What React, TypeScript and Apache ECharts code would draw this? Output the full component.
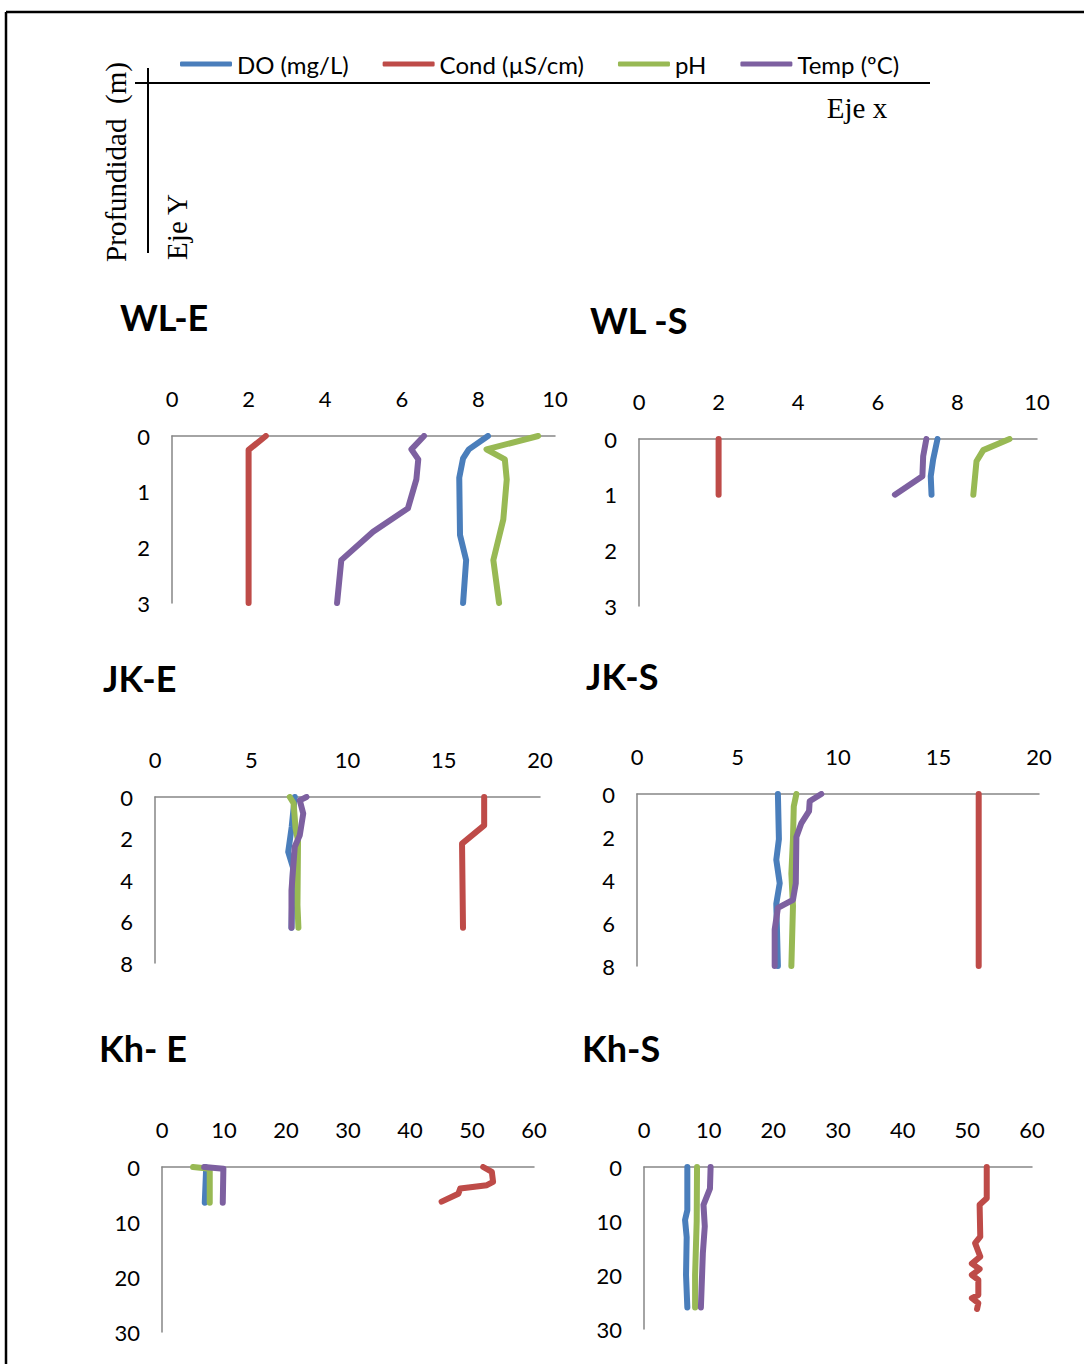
import React, { useEffect, useRef } from "react";
import * as echarts from "echarts";

// ---- Legend / series names ----
const SERIES_NAMES = ["DO (mg/L)", "Cond (µS/cm)", "pH", "Temp (ºC)"];
const SERIES_COLORS = ["#4a7ebb", "#be4b48", "#98b954", "#7d60a0"];

// ---- Panel titles ----
const TITLES = ["WL-E", "WL -S", "JK-E", "JK-S", "Kh- E", "Kh-S"];

// ---- Axis ranges ----
const X_MAX = [10, 10, 20, 20, 60, 60];
const X_INT = [2, 2, 5, 5, 10, 10];
const Y_MAX = [3, 3, 8, 8, 30, 30];
const Y_INT = [1, 1, 2, 2, 10, 10];

// ---- Data: [value, depth (m)] ----
const WLE_DO = [[8.25, 0], [7.75, 0.24], [7.6, 0.4], [7.5, 0.75], [7.52, 1.78], [7.68, 2.23], [7.6, 3]];
const WLE_COND = [[2.45, 0], [2.0, 0.25], [2.0, 3]];
const WLE_PH = [[9.56, 0], [8.21, 0.24], [8.69, 0.42], [8.74, 0.78], [8.65, 1.5], [8.39, 2.23], [8.54, 3]];
const WLE_TEMP = [[6.58, 0], [6.25, 0.24], [6.43, 0.42], [6.38, 0.78], [6.16, 1.3], [5.25, 1.72], [4.42, 2.23], [4.31, 3]];

const WLS_DO = [[7.5, 0], [7.39, 0.37], [7.33, 0.67], [7.35, 1.0]];
const WLS_COND = [[2.0, 0], [2.0, 1.0]];
const WLS_PH = [[9.31, 0], [8.65, 0.2], [8.48, 0.4], [8.4, 1.0]];
const WLS_TEMP = [[7.22, 0], [7.14, 0.31], [7.12, 0.67], [6.43, 1.0]];

const JKE_DO = [[7.26, 0], [7.1, 1.45], [6.92, 2.65], [7.17, 3.4], [7.09, 6.3]];
const JKE_COND = [[17.1, 0], [17.1, 1.37], [15.95, 2.25], [16.0, 6.3]];
const JKE_PH = [[7.0, 0], [7.2, 0.3], [7.3, 1.5], [7.43, 2.1], [7.4, 5.2], [7.45, 6.3]];
const JKE_TEMP = [[7.87, 0], [7.52, 0.16], [7.7, 0.8], [7.52, 1.85], [7.26, 2.4], [7.09, 4.5], [7.09, 6.3]];

const JKS_DO = [[7.01, 0], [7.06, 2.1], [6.93, 3.06], [7.1, 4.15], [6.93, 5.1], [7.01, 8]];
const JKS_COND = [[17, 0], [17, 8]];
const JKS_PH = [[7.93, 0], [7.8, 0.57], [7.76, 2.1], [7.68, 3.7], [7.76, 5.2], [7.68, 8]];
const JKS_TEMP = [[9.17, 0], [8.59, 0.34], [8.56, 0.8], [8.18, 1.35], [7.93, 2.0], [7.9, 4.15], [7.76, 4.92], [7.01, 5.3], [6.85, 6.3], [6.85, 8]];

const KHE_DO = [[7.0, 0], [7.1, 0.8], [6.9, 6.5]];
const KHE_COND = [[51.8, 0], [53.2, 0.9], [53.4, 2.7], [52.4, 3.3], [48.1, 3.9], [47.8, 4.85], [45.1, 6.3]];
const KHE_PH = [[5.0, 0], [7.7, 0.3], [7.7, 6.5]];
const KHE_TEMP = [[6.8, 0], [9.9, 0.3], [9.8, 6.5]];

const KHS_DO = [[6.7, 0], [6.7, 8], [6.35, 9.8], [6.6, 13], [6.5, 20], [6.7, 26]];
const KHS_COND = [[53.0, 0], [53.0, 5.8], [51.9, 7], [52.0, 12.9], [51.2, 14.1], [52.0, 16.6], [50.7, 17.9], [51.9, 18.9], [50.7, 20], [51.7, 20.9], [51.7, 23.7], [50.7, 24.3], [51.7, 25.2], [51.5, 26.3]];
const KHS_PH = [[8.2, 0], [8.15, 10], [7.9, 20], [7.9, 26]];
const KHS_TEMP = [[10.3, 0], [10.2, 4], [9.2, 7], [9.4, 11], [9.1, 16], [8.8, 26]];

const PANEL_DATA = [
  [WLE_DO, WLE_COND, WLE_PH, WLE_TEMP],
  [WLS_DO, WLS_COND, WLS_PH, WLS_TEMP],
  [JKE_DO, JKE_COND, JKE_PH, JKE_TEMP],
  [JKS_DO, JKS_COND, JKS_PH, JKS_TEMP],
  [KHE_DO, KHE_COND, KHE_PH, KHE_TEMP],
  [KHS_DO, KHS_COND, KHS_PH, KHS_TEMP],
];

// ---- Layout (pixels) ----
const GRIDS = [
  { left: 172, top: 436, width: 383, height: 167 },
  { left: 639, top: 439, width: 398, height: 167 },
  { left: 155, top: 797, width: 385, height: 166 },
  { left: 637, top: 794, width: 402, height: 172 },
  { left: 162, top: 1167, width: 372, height: 165 },
  { left: 644, top: 1167, width: 388, height: 162 },
];
const TITLE_POS = [
  [120, 317], [590, 320], [103, 678], [586, 676], [99, 1048], [582, 1048],
];

const SANS = "Lato, 'Open Sans', sans-serif";
const SERIF = "'Liberation Serif', 'DejaVu Serif', serif";

export default function App() {
  const ref = useRef<HTMLDivElement>(null);

  useEffect(() => {
    document.body.style.margin = "0";
    if (!ref.current) return;
    const chart = echarts.init(ref.current, null, { renderer: "svg" });

    const grid = GRIDS.map((g) => ({ ...g, containLabel: false }));
    const xAxis = GRIDS.map((_, i) => ({
      type: "value",
      gridIndex: i,
      position: "top",
      min: 0,
      max: X_MAX[i],
      interval: X_INT[i],
      axisLine: { show: true, onZero: false, lineStyle: { color: "#868686", width: 1.5 } },
      axisTick: { show: false },
      splitLine: { show: false },
      axisLabel: { color: "#000", fontSize: 22, fontFamily: SANS, margin: 27 },
    }));
    const yAxis = GRIDS.map((_, i) => ({
      type: "value",
      gridIndex: i,
      inverse: true,
      min: 0,
      max: Y_MAX[i],
      interval: Y_INT[i],
      axisLine: { show: true, onZero: false, lineStyle: { color: "#868686", width: 1.5 } },
      axisTick: { show: false },
      splitLine: { show: false },
      axisLabel: { color: "#000", fontSize: 22, fontFamily: SANS, margin: 22 },
    }));

    const series: any[] = [];
    PANEL_DATA.forEach((panel, i) => {
      panel.forEach((data, s) => {
        series.push({
          type: "line",
          name: SERIES_NAMES[s],
          xAxisIndex: i,
          yAxisIndex: i,
          data,
          showSymbol: false,
          symbol: "none",
          clip: true,
          color: SERIES_COLORS[s],
          lineStyle: { color: SERIES_COLORS[s], width: 6, cap: "round", join: "round" },
          z: s === 3 ? 5 : 3 + s * 0.1,
        });
      });
    });

    const graphic: any[] = [
      { type: "line", shape: { x1: 6, y1: 12, x2: 1084, y2: 12 }, style: { stroke: "#000", lineWidth: 2.5 } },
      { type: "line", shape: { x1: 6, y1: 12, x2: 6, y2: 1364 }, style: { stroke: "#000", lineWidth: 2.5 } },
      { type: "line", shape: { x1: 135, y1: 83, x2: 930, y2: 83 }, style: { stroke: "#000", lineWidth: 2 } },
      { type: "line", shape: { x1: 148, y1: 68, x2: 148, y2: 253 }, style: { stroke: "#000", lineWidth: 2 } },
      {
        type: "text", x: 857, y: 108,
        style: { text: "Eje x", font: `29px ${SERIF}`, fill: "#000", textAlign: "center", textVerticalAlign: "middle" },
      },
      {
        type: "text", x: 116, y: 162, rotation: Math.PI / 2,
        style: { text: "Profundidad  (m)", font: `29px ${SERIF}`, fill: "#000", textAlign: "center", textVerticalAlign: "middle" },
      },
      {
        type: "text", x: 177, y: 227, rotation: Math.PI / 2,
        style: { text: "Eje Y", font: `29px ${SERIF}`, fill: "#000", textAlign: "center", textVerticalAlign: "middle" },
      },
      ...TITLES.map((t, i) => ({
        type: "text", x: TITLE_POS[i][0], y: TITLE_POS[i][1],
        style: { text: t, font: `bold 36px ${SANS}`, fill: "#000", textAlign: "left", textVerticalAlign: "middle" },
      })),
    ];

    chart.setOption({
      animation: false,
      backgroundColor: "#fff",
      legend: {
        left: 175,
        top: 47,
        data: SERIES_NAMES,
        icon: "roundRect",
        itemWidth: 52,
        itemHeight: 5,
        itemGap: 34,
        selectedMode: false,
        textStyle: { color: "#000", fontSize: 24, fontFamily: SANS },
      },
      grid,
      xAxis,
      yAxis,
      series,
      graphic,
    });

    return () => chart.dispose();
  }, []);

  return <div ref={ref} style={{ width: 1084, height: 1364 }} />;
}
